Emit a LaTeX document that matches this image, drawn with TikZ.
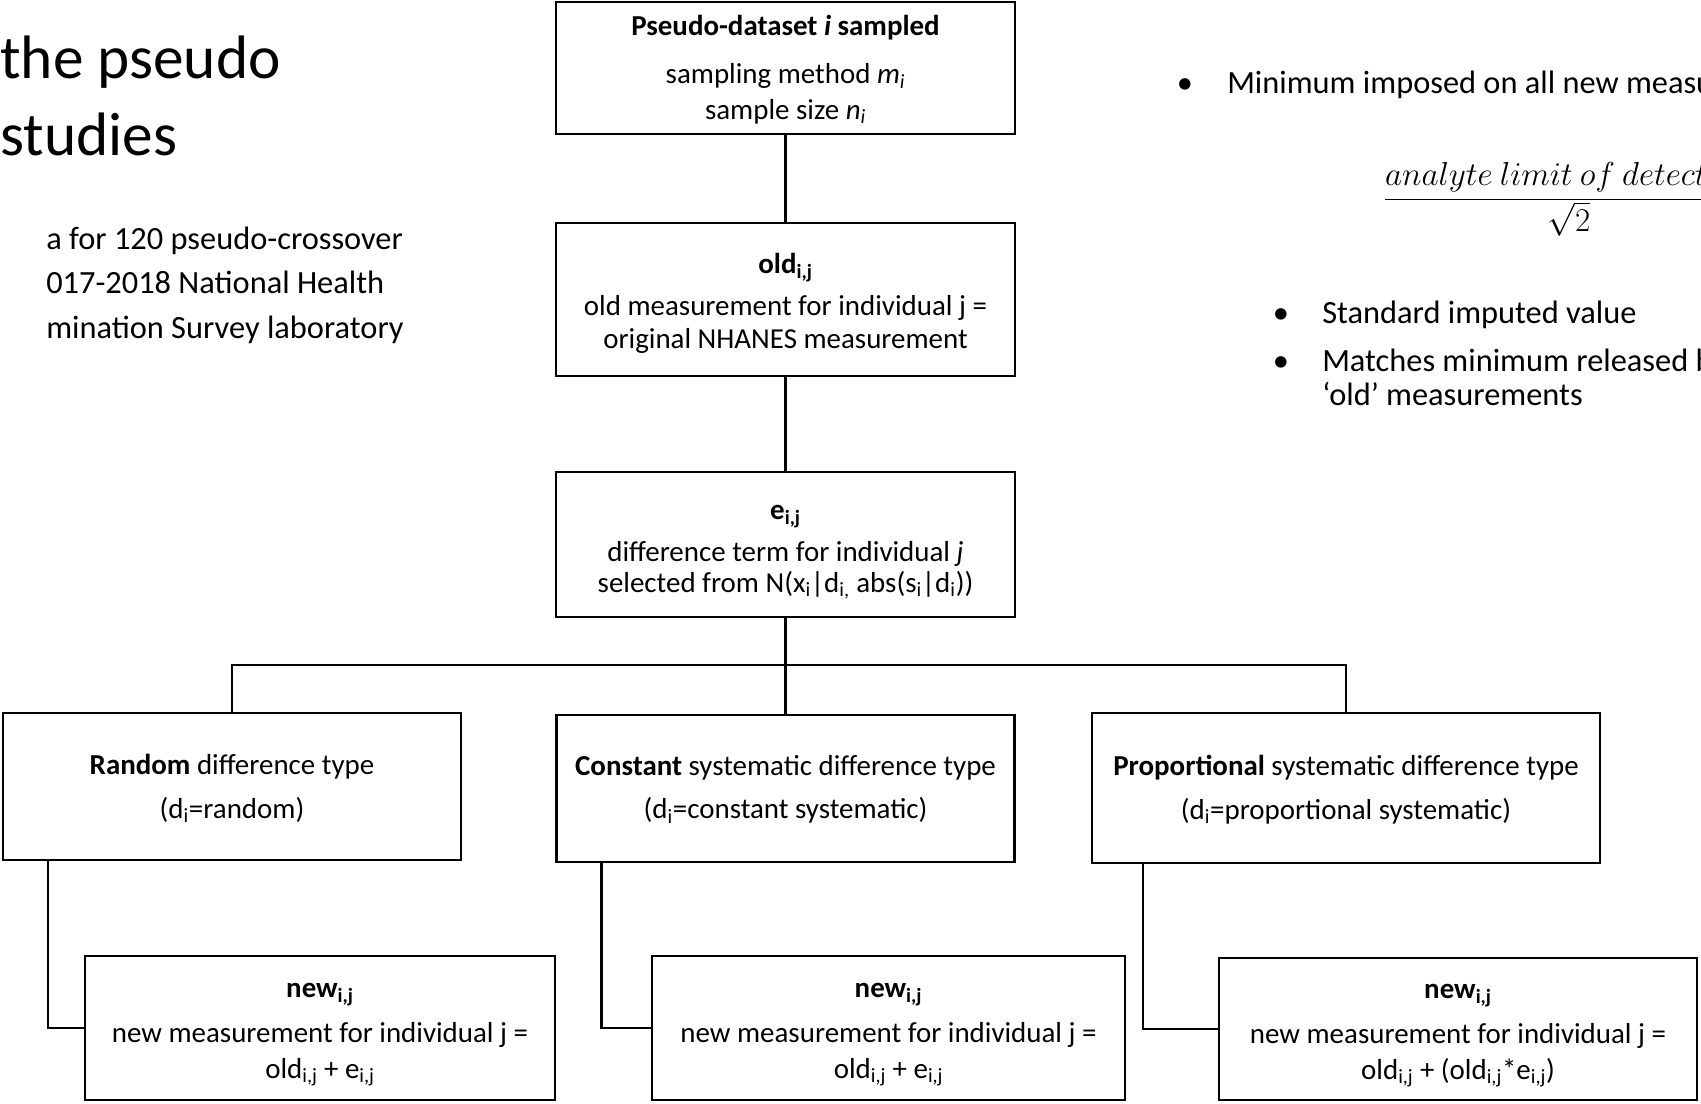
\documentclass[tikz,border=0pt]{standalone}
\usepackage{fontspec}
\setmainfont{Carlito}
\tikzset{
	box/.style={draw, line width=1.8pt, inner sep=0pt},
	boxtext/.style={align=center, inner sep=0pt, font=\fontsize{21.7}{24.5}\selectfont},
	wh/.style 2 args={minimum width=#1*0.75pt, minimum height=#2*0.75pt},
	link/.style={line width=1.8pt},
	headline/.style={anchor=base west, inner sep=0pt, font=\fontsize{46}{54}\selectfont},
	bodyline/.style={anchor=base west, inner sep=0pt, font=\fontsize{24.3}{29}\selectfont}
}
\newcommand{\sbs}[1]{\textsubscript{#1}}

\begin{document}
\begin{tikzpicture}[x=0.75pt, y=-0.75pt]
			%%%%% START %%%%%
			
			\useasboundingbox (0,0) rectangle (1701,1103);
			\clip (0,0) rectangle (1701,1103);
			\fill[white] (0,0) rectangle (1701,1103);
			
			% slide text, left
			\node[headline] (head1) at (0,78) {the pseudo};
			\node[headline] (head2) at (0,155) {studies};
			\node[bodyline] (txt1) at (46,249) {a for 120 pseudo-crossover};
			\node[bodyline] (txt2) at (46,293) {017-2018 National Health};
			\node[bodyline] (txt3) at (46,338) {mination Survey laboratory};
			
			% slide text, right
			\node[bodyline, anchor=base] (dot1) at (1185,93) {\textbullet};
			\node[bodyline] (min) at (1227,93) {Minimum imposed on all new measurements};
			\node[anchor=base, inner sep=0pt, font=\fontsize{24}{29}\selectfont] (lod) at (1569,208) {$\displaystyle\frac{analyte\ limit\ of\ detection}{\sqrt{2}}$};
			\node[bodyline, anchor=base] (dot2) at (1281,323) {\textbullet};
			\node[bodyline] (std) at (1322,323) {Standard imputed value};
			\node[bodyline, anchor=base] (dot3) at (1281,371) {\textbullet};
			\node[bodyline] (match1) at (1322,371) {Matches minimum released by};
			\node[bodyline] (match2) at (1322,405) {‘old’ measurements};
			
			% flow chart boxes
			\node[box, wh={459}{132}] (pds) at (785.5,68) {};
			\node[boxtext] (pdstxt) at (785.5,69.5) {\textbf{Pseudo-dataset \textit{i} sampled}\\[12pt] sampling method \textit{m}\sbs{\textit{i}}\\[2pt] sample size \textit{n}\sbs{\textit{i}}};
			
			\node[box, wh={459}{153}] (old) at (785.5,299.5) {};
			\node[boxtext] (oldtxt) at (785.5,303) {\textbf{old\sbs{i,j}}\\[7pt] old measurement for individual j =\\ original NHANES measurement};
			
			\node[box, wh={459}{145}] (err) at (785.5,544.5) {};
			\node[boxtext] (errtxt) at (785.5,552.5) {\textbf{e\sbs{i,j}}\\[6.5pt] difference term for individual \textit{j}\\[-1pt] selected from N(x\sbs{i}|d\sbs{i,} abs(s\sbs{i}|d\sbs{i}))};
			
			\node[box, wh={458}{147}] (rand) at (232,786.5) {};
			\node[boxtext] (randtxt) at (232,788.5) {\textbf{Random} difference type\\[8pt] (d\sbs{i}=random)};
			\node[box, wh={458}{147}] (const) at (785.5,788.5) {};
			\node[boxtext] (consttxt) at (785.5,789.5) {\textbf{Constant} systematic difference type\\[8pt] (d\sbs{i}=constant systematic)};
			\node[box, wh={508}{150}] (prop) at (1346,788) {};
			\node[boxtext] (proptxt) at (1346,789.5) {\textbf{Proportional} systematic difference type\\[8pt] (d\sbs{i}=proportional systematic)};
			
			\node[box, wh={470}{144}] (new1) at (320,1028) {};
			\node[boxtext] (new1txt) at (320,1034.5) {\textbf{new\sbs{i,j}}\\[9.5pt] new measurement for individual j =\\[2pt] old\sbs{i,j} + e\sbs{i,j}};
			\node[box, wh={473}{144}] (new2) at (888.5,1028) {};
			\node[boxtext] (new2txt) at (888.5,1034.5) {\textbf{new\sbs{i,j}}\\[9.5pt] new measurement for individual j =\\[2pt] old\sbs{i,j} + e\sbs{i,j}};
			\node[box, wh={478}{142}] (new3) at (1458,1029) {};
			\node[boxtext] (new3txt) at (1458,1035.5) {\textbf{new\sbs{i,j}}\\[9.5pt] new measurement for individual j =\\[2pt] old\sbs{i,j} + (old\sbs{i,j}*e\sbs{i,j})};
			
			% connectors
			\draw[link] (pds) -- (old);
			\draw[link] (old) -- (err);
			\draw[link] (err) -- (const);
			\coordinate (split) at (785.5,665);
			\draw[link] (rand.north) |- (split) -| (prop.north);
			
			\draw[link] ([xshift=34.5pt]rand.south west) |- (new1.west);
			\draw[link] ([xshift=34.5pt]const.south west) |- (new2.west);
			\draw[link] ([xshift=39pt]prop.south west) |- (new3.west);
			
			%%%%% END %%%%%
\end{tikzpicture}
\end{document}
